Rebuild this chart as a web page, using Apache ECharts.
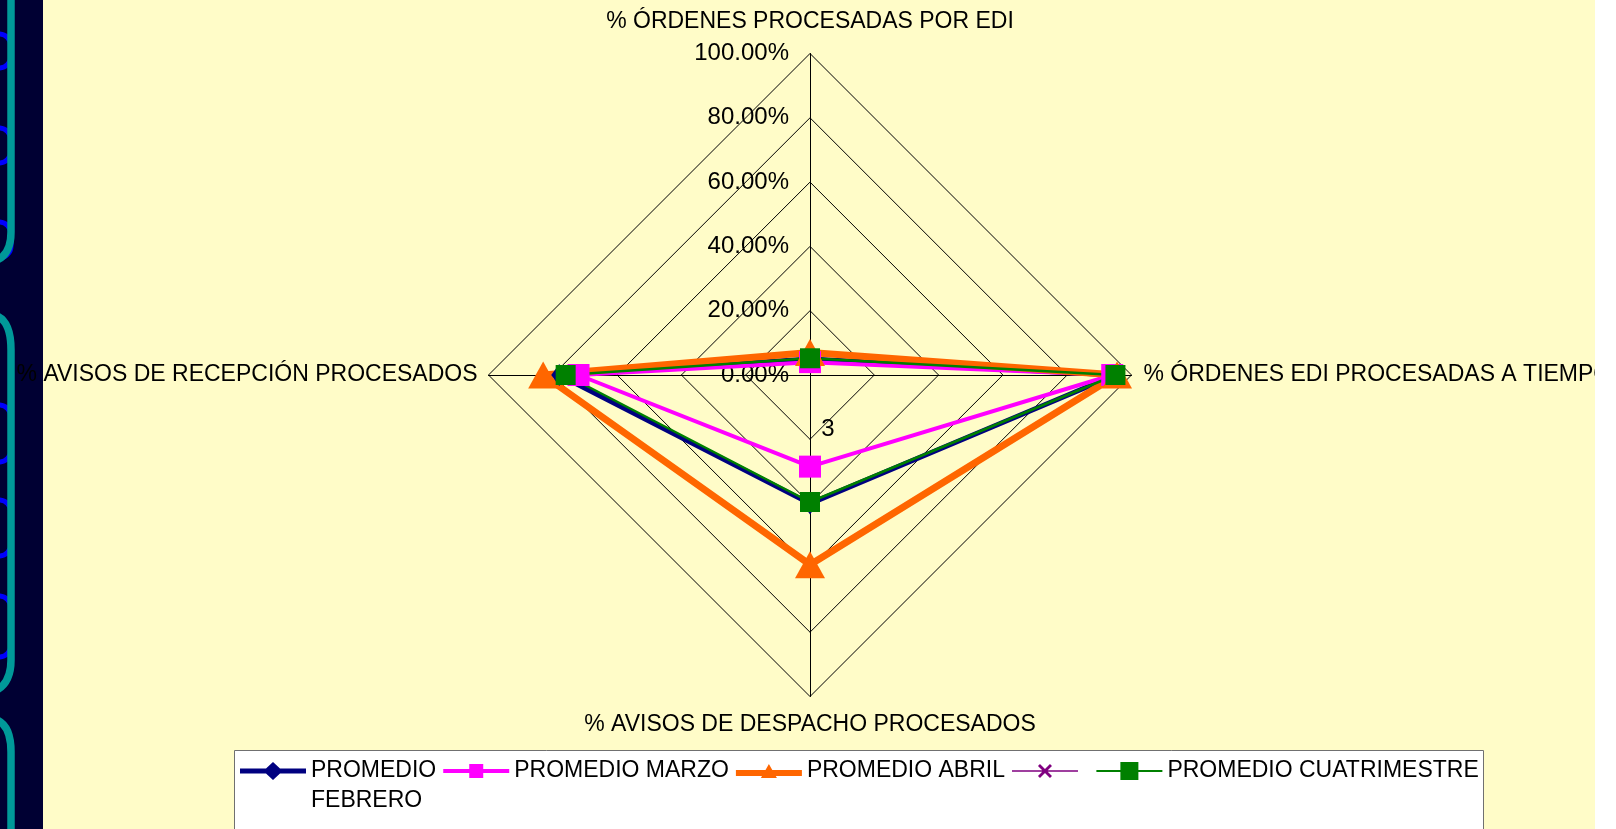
<!DOCTYPE html>
<html>
<head>
<meta charset="utf-8">
<script src="https://cdn.jsdelivr.net/npm/echarts@6/dist/echarts.min.js"></script>
<style>
    html, body { margin: 0; padding: 0; background: #fff; }
    #grafico { width: 1616px; height: 829px; }
</style>
</head>
<body>
<div id="grafico"></div>
<script>
'use strict';

// ejes del radar, en el orden de ECharts (arriba, izquierda, abajo, derecha)
var indicadores = [
    '% ÓRDENES PROCESADAS POR EDI',
    '% AVISOS DE RECEPCIÓN PROCESADOS',
    '% AVISOS DE DESPACHO PROCESADOS',
    '% ÓRDENES EDI PROCESADAS A TIEMPO'
];
var maximoEje = 100;

// valores (%)
var promedioFebrero = [5, 78, 40, 95];
var promedioMarzo = [4, 72, 28.5, 94];
var promedioAbril = [7, 83, 59, 95.5];
var promedioSinNombre = [null, null, null, null];
var promedioCuatrimestre = [5.2, 76, 39.5, 95];

var nombresSeries = ['PROMEDIO FEBRERO', 'PROMEDIO MARZO', 'PROMEDIO ABRIL', ' ', 'PROMEDIO CUATRIMESTRE'];

var fuente = 'Liberation Sans, Arial, sans-serif';
var myChart = echarts.init(document.getElementById('grafico'));

// estilos de cada serie
var estilos = [
    {color: '#000080', symbol: 'diamond', size: [16, 22], width: 5},
    {color: '#FF00FF', symbol: 'rect', size: 22, width: 4},
    {color: '#FF6600', symbol: 'triangle', size: [30, 27], width: 7},
    {color: '#800080', symbol: 'none', size: 0, width: 1},
    {color: '#008000', symbol: 'rect', size: 20, width: 2.5}
];

// iconos de leyenda tipo excel (linea + marcador), caja 66x18
var iconos = [
    'path://M0,6.5H26L33,0L40,6.5H66V11.5H40L33,18L26,11.5H0Z',
    'path://M0,7H26V2H40V7H66V11H40V16H26V11H0Z',
    'path://M0,6H29.6L33,0L36.4,6H66V12H39.9L41,14H25L26.1,12H0Z',
    'path://M0,8.2H66V9.8H0ZM26,4L28,2L40,14L38,16ZM38,2L40,4L28,16L26,14Z',
    'path://M0,8H24V0H42V8H66V10H42V18H24V10H0Z'
];

var valores = [promedioFebrero, promedioMarzo, promedioAbril, promedioSinNombre, promedioCuatrimestre];
var separacionNombres = [20, 11, 17, 12];

var indicator = indicadores.map(function (nombre, i) {
    var item = {name: nombre, min: 0, max: maximoEje, nameGap: separacionNombres[i]};
    if (i === 0) {
        item.axisLabel = {
            show: true,
            margin: 21,
            fontSize: 24,
            fontFamily: fuente,
            color: '#000',
            formatter: function (v) {
                return Number(v).toFixed(2) + '%';
            }
        };
    }
    return item;
});

var series = nombresSeries.map(function (nombre, i) {
    var e = estilos[i];
    return {
        name: nombre,
        type: 'radar',
        symbol: e.symbol,
        symbolSize: e.size,
        silent: true,
        itemStyle: {color: e.color},
        lineStyle: {color: e.color, width: e.width, opacity: e.symbol === 'none' ? 0 : 1},
        data: [{name: nombre, value: valores[i]}]
    };
});

var legendData = nombresSeries.map(function (nombre, i) {
    return {
        name: nombre,
        icon: iconos[i],
        itemStyle: {color: estilos[i].color, borderWidth: 0}
    };
});

// decoracion del panel izquierdo (anillas de cuaderno)
var anillas = [[34, 68], [128, 163], [222, 258], [405, 462], [500, 556], [596, 657]];
var graficos = [
    {type: 'rect', z: -2, silent: true, shape: {x: 0, y: 0, width: 43, height: 829}, style: {fill: '#000033'}}
];
anillas.forEach(function (a) {
    graficos.push({
        type: 'rect', z: -1, silent: true,
        shape: {x: -16, y: a[0], width: 27, height: a[1] - a[0], r: 12},
        style: {fill: null, stroke: '#0000FF', lineWidth: 5}
    });
});
var teal = {fill: null, stroke: '#009999', lineWidth: 7.5};
[
    {type: 'line', shape: {x1: 11, y1: 0, x2: 11, y2: 232}},
    {type: 'bezierCurve', shape: {x1: 11, y1: 232, cpx1: 11, cpy1: 254, x2: -3, y2: 260}},
    {type: 'bezierCurve', shape: {x1: -3, y1: 316, cpx1: 11, cpy1: 322, x2: 11, y2: 350}},
    {type: 'line', shape: {x1: 11, y1: 350, x2: 11, y2: 660}},
    {type: 'bezierCurve', shape: {x1: 11, y1: 660, cpx1: 11, cpy1: 682, x2: -3, y2: 690}},
    {type: 'bezierCurve', shape: {x1: -3, y1: 720, cpx1: 11, cpy1: 726, x2: 11, y2: 752}},
    {type: 'line', shape: {x1: 11, y1: 752, x2: 11, y2: 829}}
].forEach(function (g) {
    g.z = -1;
    g.silent = true;
    g.style = teal;
    graficos.push(g);
});
// caja de la leyenda
graficos.push({
    type: 'rect', z: 0, silent: true,
    shape: {x: 234.5, y: 750.5, width: 1249, height: 100},
    style: {fill: '#fff', stroke: '#707070', lineWidth: 1}
});
// franja blanca a la derecha que corta el rotulo
graficos.push({type: 'rect', z: 100, silent: true, shape: {x: 1595, y: 0, width: 21, height: 829}, style: {fill: '#fff'}});
graficos.push({
    type: 'text', x: 828, y: 429, silent: true,
    style: {text: '3', fontSize: 24, fontFamily: fuente, fill: '#000', align: 'center', verticalAlign: 'middle'}
});

myChart.setOption({
    backgroundColor: '#FFFCC8',
    animation: false,
    textStyle: {fontFamily: fuente},
    graphic: {elements: graficos},
    legend: {
        left: 240,
        top: 726,
        orient: 'horizontal',
        itemWidth: 66,
        itemHeight: 18,
        itemGap: 7,
        padding: 0,
        selectedMode: false,
        textStyle: {fontSize: 23, fontFamily: fuente, color: '#000', lineHeight: 30},
        formatter: function (name) {
            // excel parte el nombre en dos lineas; la linea vacia centra "PROMEDIO" con el icono
            return name === 'PROMEDIO FEBRERO' ? '\nPROMEDIO\nFEBRERO' : name;
        },
        data: legendData
    },
    radar: {
        center: [810, 375],
        radius: 321.5,
        shape: 'polygon',
        splitNumber: 5,
        indicator: indicator,
        axisName: {color: '#000', fontSize: 23, fontFamily: fuente},
        axisLine: {lineStyle: {color: '#000', width: 1}},
        splitLine: {lineStyle: {color: '#000', width: 1}},
        splitArea: {show: false},
        axisTick: {show: false},
        axisLabel: {show: false}
    },
    series: series
});
</script>
</body>
</html>
